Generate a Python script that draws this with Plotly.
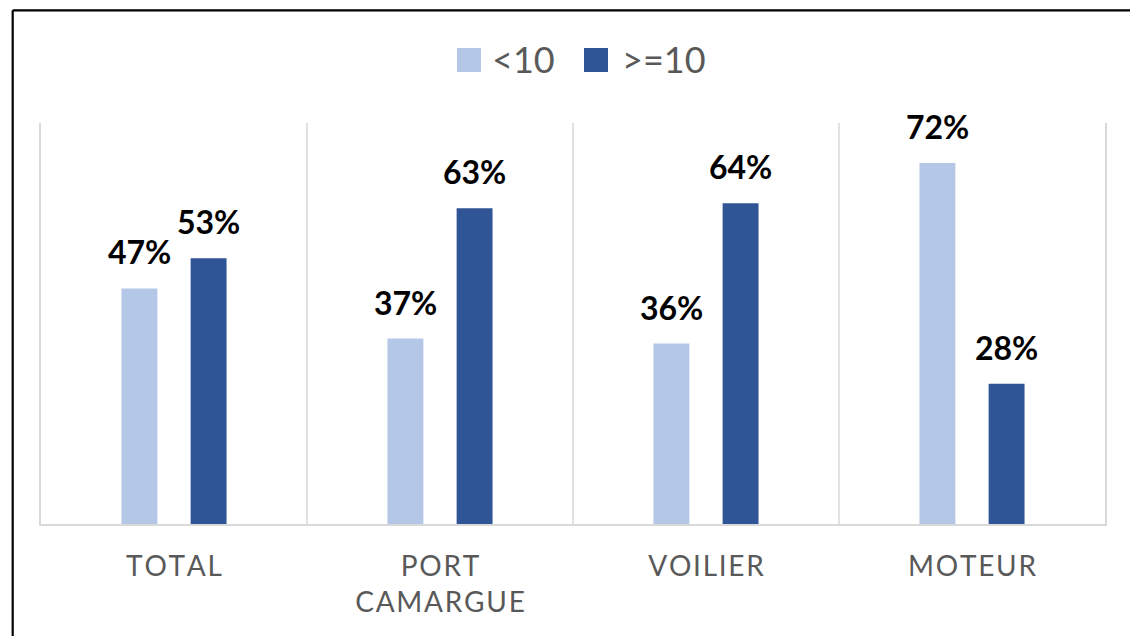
import plotly.graph_objects as go

categories = ["TOTAL", "PORT CAMARGUE", "VOILIER", "MOTEUR"]
tick_labels = ["TOTAL", "PORT<br>CAMARGUE", "VOILIER", "MOTEUR"]
series_names = ["<10", ">=10"]
values_lt10 = [47, 37, 36, 72]
values_ge10 = [53, 63, 64, 28]

colors = ["#B4C7E7", "#2F5597"]
FONT = "Lato"

W, H = 1130, 636
L, R, T, B = 41, 1105, 123, 524


def px_x(px):
    return (px - L) / (R - L)


def px_y(py):
    return (B - py) / (B - T)


def spaced(s):
    # emulate the wide letter spacing of the category labels
    return "<br>".join("\u200a".join(list(line)) for line in s.split("<br>"))


bar_w = 0.135
centers = [-0.13, 0.13]

fig = go.Figure()
for name, vals, col, c in zip(series_names, [values_lt10, values_ge10], colors, centers):
    fig.add_trace(go.Bar(
        x=list(range(len(categories))), y=vals, name=name,
        marker=dict(color=col, line=dict(width=0)),
        width=bar_w, offset=c - bar_w / 2, showlegend=False,
        hoverinfo="skip",
    ))

annotations = []
for vals, c in zip([values_lt10, values_ge10], centers):
    for i, v in enumerate(vals):
        annotations.append(dict(
            x=i + c, y=v, xref="x", yref="y", text=f"<b>{v}%</b>",
            showarrow=False, yanchor="bottom", yshift=15,
            font=dict(family=FONT, size=32, color="#000000"),
        ))

# legend (manual, large squares)
leg_items = [(457, 490), (584, 620)]
shapes = []
for (sx, tx), name, col in zip(leg_items, series_names, colors):
    shapes.append(dict(type="rect", xref="paper", yref="paper",
                       x0=px_x(sx), x1=px_x(sx + 24), y0=px_y(72), y1=px_y(48),
                       fillcolor=col, line=dict(width=0)))
    annotations.append(dict(x=px_x(tx), y=px_y(59), xref="paper", yref="paper",
                            text=name, showarrow=False, xanchor="left", yanchor="middle",
                            font=dict(family=FONT, size=36, color="#595959")))

# outer frame (left and top edges)
shapes.append(dict(type="line", xref="paper", yref="paper",
                   x0=px_x(12.7), x1=px_x(12.7), y0=px_y(10.3), y1=px_y(640),
                   line=dict(color="#000000", width=2.2)))
shapes.append(dict(type="line", xref="paper", yref="paper",
                   x0=px_x(12.7), x1=px_x(1135), y0=px_y(10.3), y1=px_y(10.3),
                   line=dict(color="#000000", width=2.2)))

fig.update_layout(
    width=W, height=H,
    margin=dict(l=L, r=W - R, t=T, b=H - B, pad=0),
    paper_bgcolor="white", plot_bgcolor="white",
    barmode="overlay",
    showlegend=False,
    annotations=annotations,
    shapes=shapes,
    xaxis=dict(
        range=[-0.5, len(categories) - 0.5],
        tickmode="array", tickvals=list(range(len(categories))),
        ticktext=[spaced(t) for t in tick_labels],
        showgrid=False, showline=True, linecolor="#D9D9D9", linewidth=2,
        ticks="", ticklabelstandoff=16,
        tickfont=dict(family=FONT, size=28, color="#595959"),
        zeroline=False,
    ),
    yaxis=dict(
        range=[0, 80], showticklabels=False, showgrid=False, zeroline=False,
        showline=True, mirror=True, linecolor="#D9D9D9", linewidth=1.5, ticks="",
    ),
)

# category boundary separators
for i in range(1, len(categories)):
    fig.add_vline(x=i - 0.5, line=dict(color="#D9D9D9", width=1.5), layer="below")

fig.write_html(
    "out.html",
    config={"displayModeBar": False},
    post_script="document.body.style.margin='0';document.body.style.padding='0';",
)
